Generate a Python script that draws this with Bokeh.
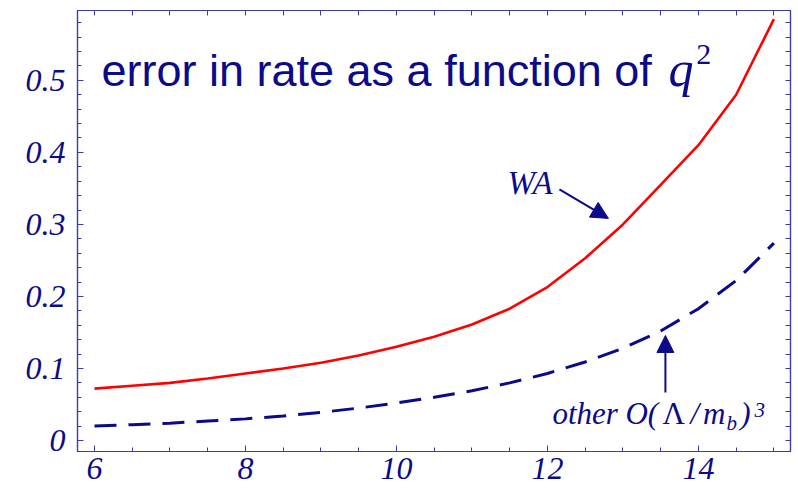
from bokeh.plotting import figure
from bokeh.models import (LinearAxis, FixedTicker, Range1d, Label, Arrow,
                          NormalHead)
from bokeh.embed import file_html
from bokeh.resources import INLINE

# q^2 values and the two error estimates
q2 = [6.0, 6.5, 7.0, 7.5, 8.0, 8.5, 9.0, 9.5, 10.0, 10.5,
      11.0, 11.5, 12.0, 12.5, 13.0, 13.5, 14.0, 14.5, 15.0]
wa_error = [0.072, 0.076, 0.080, 0.086, 0.093, 0.100, 0.108, 0.118, 0.130, 0.144,
            0.161, 0.183, 0.213, 0.253, 0.300, 0.355, 0.410, 0.480, 0.585]
other_error = [0.020, 0.022, 0.024, 0.027, 0.030, 0.034, 0.039, 0.045, 0.052, 0.060,
               0.069, 0.080, 0.093, 0.109, 0.128, 0.152, 0.183, 0.222, 0.274]

x_ticks = [6, 8, 10, 12, 14]
x_tick_labels = ["6", "8", "10", "12", "14"]
y_ticks = [0.0, 0.1, 0.2, 0.3, 0.4, 0.5]
y_tick_labels = ["0", "0.1", "0.2", "0.3", "0.4", "0.5"]

NAVY = "#0a0a8a"
AXIS = "#3c3ca8"
SERIF = "Liberation Serif"

Y0, Y1 = -0.0153, 0.597
FRAME_H = 441  # plot frame height in px

p = figure(width=798, height=492, output_backend="svg", toolbar_location=None,
           x_range=Range1d(5.775, 15.22), y_range=Range1d(Y0, Y1),
           x_axis_type=None, y_axis_type=None,
           min_border_left=77, min_border_right=8,
           min_border_top=10, min_border_bottom=41)
p.grid.visible = False
p.outline_line_color = AXIS
p.outline_line_width = 1.2
p.background_fill_color = "white"
p.border_fill_color = "white"

x_minor = [5.5 + 0.5 * i for i in range(21)]
y_minor = [round(-0.02 + 0.02 * i, 2) for i in range(32)]


def style(axis):
    axis.axis_line_color = AXIS
    axis.axis_line_width = 1.2
    axis.major_tick_line_color = AXIS
    axis.minor_tick_line_color = AXIS
    axis.major_tick_in = 6
    axis.major_tick_out = 0
    axis.minor_tick_in = 4
    axis.minor_tick_out = 0
    axis.major_label_text_font = SERIF
    axis.major_label_text_font_style = "italic"
    axis.major_label_text_font_size = "32px"
    axis.major_label_text_color = NAVY


xb = LinearAxis(ticker=FixedTicker(ticks=x_ticks, minor_ticks=x_minor))
xb.major_label_overrides = {t: s for t, s in zip(x_ticks, x_tick_labels)}
xb.major_label_standoff = 6
style(xb)
p.add_layout(xb, "below")

yl = LinearAxis(ticker=FixedTicker(ticks=y_ticks, minor_ticks=y_minor))
yl.major_label_overrides = {t: s for t, s in zip(y_ticks, y_tick_labels)}
yl.major_label_standoff = 12
style(yl)
p.add_layout(yl, "left")

# top and right: tick marks only, no labels
xt = LinearAxis(ticker=FixedTicker(ticks=[], minor_ticks=x_minor))
style(xt)
xt.minor_tick_in = 5
p.add_layout(xt, "above")

yr = LinearAxis(ticker=FixedTicker(ticks=[], minor_ticks=y_minor))
style(yr)
yr.minor_tick_in = 5
p.add_layout(yr, "right")

# curves
p.line(q2, wa_error, line_color="#ff0000", line_width=2.6)
p.line(q2, other_error, line_color=NAVY, line_width=3, line_dash="22 12")


def label(x, y, text, size, font=SERIF, style="italic"):
    # place text by its alphabetic baseline (Label sits ~0.39 em low)
    dy = 0.39 * size * (Y1 - Y0) / FRAME_H
    p.add_layout(Label(x=x, y=y + dy, text=text, text_font=font,
                       text_font_style=style, text_font_size=f"{size}px",
                       text_color=NAVY, text_baseline="alphabetic"))


# title inside the frame
label(6.093, 0.4889, "error in rate as a function of", 45,
      font="Liberation Sans", style="normal")
label(13.603, 0.4889, "q", 50)
label(13.97, 0.520, "2", 30, style="normal")

# WA annotation
label(11.47, 0.340, "WA", 33)
p.add_layout(Arrow(x_start=12.159, y_start=0.3486, x_end=12.808, y_end=0.3083,
                   line_color=NAVY, line_width=2,
                   end=NormalHead(size=17, fill_color=NAVY, line_color=NAVY)))

# other O(Lambda/m_b)^3 annotation
p.add_layout(Arrow(x_start=13.563, y_start=0.0667, x_end=13.563, y_end=0.1458,
                   line_color=NAVY, line_width=2,
                   end=NormalHead(size=17, fill_color=NAVY, line_color=NAVY)))
label(12.066, 0.0208, "other", 31)
label(13.033, 0.0208, "O(", 31)
label(13.523, 0.0208, "\u039b", 31, style="normal")
label(13.894, 0.0208, "/", 31)
label(14.060, 0.0208, "m", 31)
label(14.371, 0.0167 - 0.004, "b", 21)
label(14.556, 0.0208, ")", 31)
label(14.742, 0.0306, "3", 21)

open("out.html", "w").write(file_html(p, INLINE))
